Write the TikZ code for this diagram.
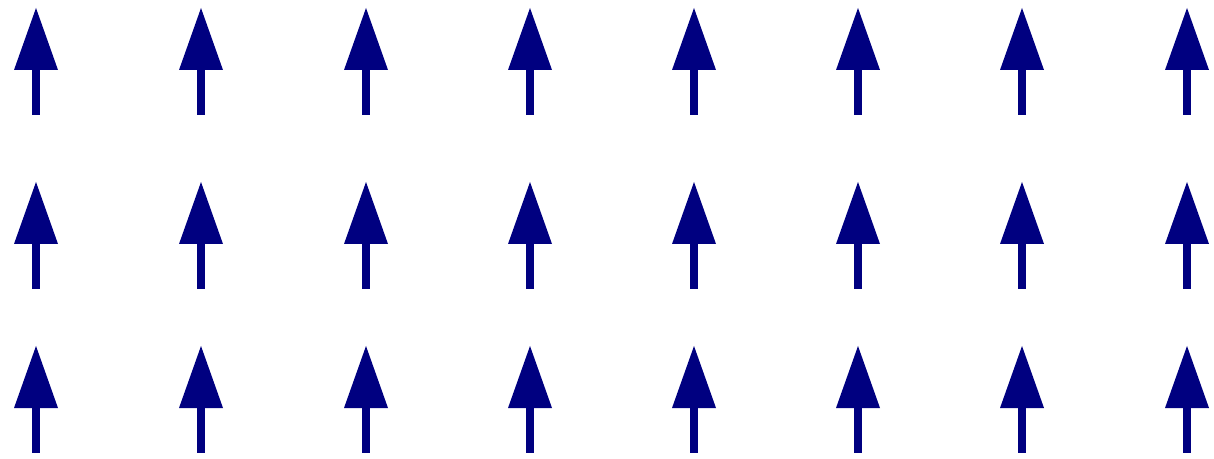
\documentclass[tikz,border=0pt]{standalone}
\definecolor{arrowblue}{RGB}{0,0,128}
\tikzset{
  uparrow/.pic={
    \fill[arrowblue] (-4,60) rectangle (4,107);
    \fill[arrowblue] (0,0) -- (22,62) -- (-22,62) -- cycle;
  }
}
\begin{document}
\begin{tikzpicture}[x=0.5pt,y=-0.5pt]
\useasboundingbox (0,0) rectangle (1214,459);
\foreach \cx in {36,201,366,530,694,858,1022,1187}{
  \foreach \ty in {8,182,346}{
    \pic at (\cx,\ty) {uparrow};
  }
}
\end{tikzpicture}
\end{document}
